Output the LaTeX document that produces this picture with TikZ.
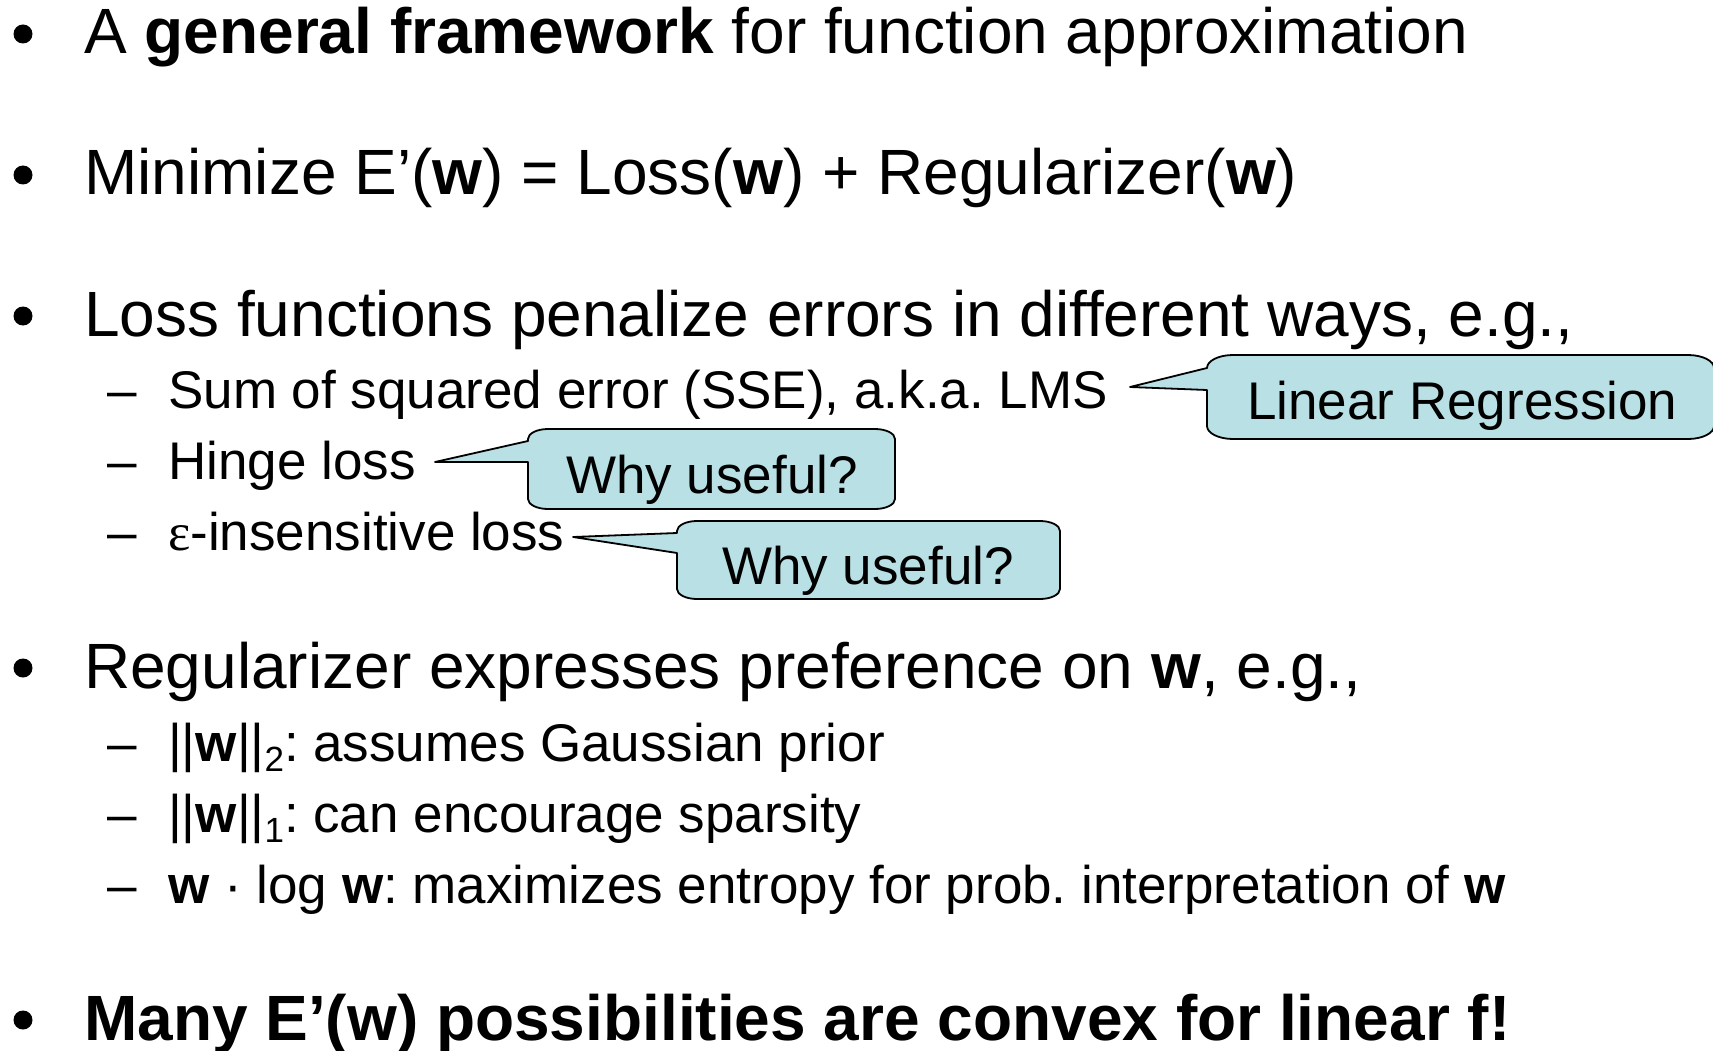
\documentclass[tikz,border=0pt]{standalone}
\usepackage{fontspec}
\setmainfont{Liberation Sans}
\newfontfamily\greekserif{Liberation Serif}
\definecolor{callfill}{RGB}{185,224,228}
\frenchspacing
\tikzset{
  maintext/.style={anchor=base west, inner sep=0pt, font=\fontsize{64}{77}\selectfont},
  subtext/.style={anchor=base west, inner sep=0pt, font=\fontsize{53}{64}\selectfont},
  bulletdot/.style={circle, fill=black, inner sep=0pt, minimum size=19pt},
  callout/.style={fill=callfill, draw=black, line width=1.8pt, line join=round},
}
\newcommand\crx{26}
\newcommand\cry{13}
\newcommand\calloutpath[8]{%
  \filldraw[callout] (#1,#7) -- (#5,#6) -- (#1,#8)
   -- (#1,#4-\cry) .. controls (#1,#4-0.448*\cry) and (#1+0.448*\crx,#4) .. (#1+\crx,#4)
   -- (#2-\crx,#4) .. controls (#2-0.448*\crx,#4) and (#2,#4-0.448*\cry) .. (#2,#4-\cry)
   -- (#2,#3+\cry) .. controls (#2,#3+0.448*\cry) and (#2-0.448*\crx,#3) .. (#2-\crx,#3)
   -- (#1+\crx,#3) .. controls (#1+0.448*\crx,#3) and (#1,#3+0.448*\cry) .. (#1,#3+\cry)
   -- cycle;}
\newcommand\subtwo[1]{\raisebox{-10pt}{\fontsize{35}{35}\selectfont #1}}
\begin{document}
\begin{tikzpicture}[x=1pt,y=-1pt]
\useasboundingbox[fill=white] (0,0) rectangle (1713,1051);

% bullets
\node[bulletdot] (b1) at (23,34) {};
\node[bulletdot] (b2) at (23,175) {};
\node[bulletdot] (b3) at (23,316) {};
\node[bulletdot] (b4) at (23,668) {};
\node[bulletdot] (b5) at (23,1020) {};

% main lines
\node[maintext] (l1) at (84,54) {A \textbf{general framework} for function approximation};
\node[maintext] (l2) at (84,195) {Minimize E’(\textbf{w}) = Loss(\textbf{w}) + Regularizer(\textbf{w})};
\node[maintext] (l3) at (84,336) {Loss functions penalize errors in different ways, e.g.,};
\node[maintext] (l4) at (84,688) {Regularizer expresses preference on \textbf{w}, e.g.,};
\node[maintext] (l5) at (84,1040) {\textbf{Many E’(w) possibilities are convex for linear f!}};

% sub dashes
\node[subtext] (d1) at (107,408) {–};
\node[subtext] (d2) at (107,479) {–};
\node[subtext] (d3) at (107,550) {–};
\node[subtext] (d4) at (107,761) {–};
\node[subtext] (d5) at (107,832) {–};
\node[subtext] (d6) at (107,903) {–};

% sub items
\node[subtext] (s1) at (168,408) {Sum of squared error (SSE), a.k.a. LMS};
\node[subtext] (s2) at (168,479) {Hinge loss};
\node[subtext] (s3) at (168,550) {{\greekserif ε}-insensitive loss};
\node[subtext] (s4) at (168,761) {||\textbf{w}||\subtwo{2}: assumes Gaussian prior};
\node[subtext] (s5) at (168,832) {||\textbf{w}||\subtwo{1}: can encourage sparsity};
\node[subtext] (s6) at (168,903) {\textbf{w} · log \textbf{w}: maximizes entropy for prob. interpretation of \textbf{w}};

% callouts
\calloutpath{1207}{1714}{355}{439}{1130}{387}{368}{390}
\node[subtext] (c1) at (1247,419) {Linear Regression};

\renewcommand\crx{20}
\renewcommand\cry{10}
\calloutpath{528}{895}{429}{509}{435}{462}{441}{462}
\node[subtext] (c2) at (566,493) {Why useful?};

\calloutpath{677}{1060}{521}{599}{573}{537}{533}{553}
\node[subtext] (c3) at (722,584) {Why useful?};
\end{tikzpicture}
\end{document}
